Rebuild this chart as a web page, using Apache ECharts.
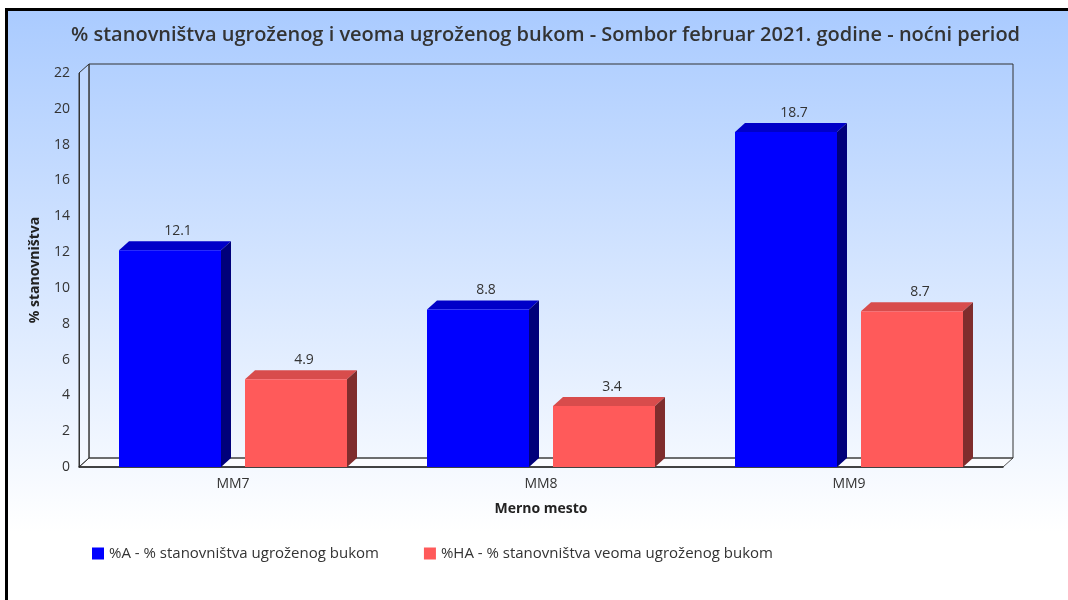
<!DOCTYPE html>
<html>
<head>
<meta charset="utf-8">
<script src="https://cdn.jsdelivr.net/npm/echarts@6/dist/echarts.min.js"></script>
<style>
  html, body { margin: 0; padding: 0; background: #fff; }
  .frame {
    position: absolute; left: 5px; top: 8px; width: 1100px; height: 620px;
    border-left: 3px solid #000; border-top: 3px solid #000;
    background: linear-gradient(to bottom, #aacbff 0%, #ffffff 84%, #ffffff 100%);
  }
  #chart { position: absolute; left: 0; top: 0; width: 1068px; height: 600px; }
</style>
</head>
<body>
<div class="frame"></div>
<div id="chart"></div>
<script>
const categories = ['MM7', 'MM8', 'MM9']
const seriesA = [12.1, 8.8, 18.7]
const seriesHA = [4.9, 3.4, 8.7]
const nameA = '%A - % stanovništva ugroženog bukom'
const nameHA = '%HA - % stanovništva veoma ugroženog bukom'

// grid + 3d depth
const GL = 79, GT = 73, GW = 924, GH = 394
const DX = 10, DY = 9
const BAR_W = 102, BAR_GAP = 24
const FONT = '"Open Sans", "Noto Sans", sans-serif'

const chart = echarts.init(document.getElementById('chart'))

const make3d = (offset, topColor, sideColor) => (params, api) => {
  const top = api.coord([api.value(0), api.value(1)])
  const base = api.coord([api.value(0), 0])
  const x0 = top[0] + offset - BAR_W / 2
  const x1 = x0 + BAR_W
  return {
    type: 'group',
    children: [{
      type: 'polygon',
      shape: { points: [[x0, top[1]], [x0 + DX, top[1] - DY], [x1 + DX, top[1] - DY], [x1, top[1]]] },
      style: { fill: topColor }
    }, {
      type: 'polygon',
      shape: { points: [[x1, top[1]], [x1 + DX, top[1] - DY], [x1 + DX, base[1] - DY], [x1, base[1]]] },
      style: { fill: sideColor }
    }]
  }
}

const half = (BAR_W + BAR_GAP) / 2
const bottom = GT + GH
const valueLabel = { show: true, position: 'top', distance: 12, offset: [8, 0], fontFamily: FONT, fontSize: 14, color: '#333' }

const options = {
  animation: false,
  title: {
    text: '% stanovništva ugroženog i veoma ugroženog bukom - Sombor februar 2021. godine - noćni period',
    left: 66,
    top: 20,
    textStyle: { fontFamily: FONT, fontSize: 20, fontWeight: 600, color: '#333' }
  },
  legend: {
    data: [nameA, nameHA],
    left: 87,
    top: 541,
    itemWidth: 12,
    itemHeight: 12,
    itemGap: 45,
    icon: 'rect',
    textStyle: { fontFamily: FONT, fontSize: 15, color: '#333' }
  },
  grid: { left: GL, top: GT, width: GW, height: GH },
  graphic: [{
    type: 'polygon',
    z: -1,
    shape: { points: [[GL, bottom], [GL + DX, bottom - DY], [GL + GW + DX, bottom - DY], [GL + GW, bottom]] },
    style: { fill: '#fbfcff', stroke: '#555', lineWidth: 1 }
  }, {
    type: 'rect',
    z: -1,
    shape: { x: GL + DX, y: GT - DY, width: GW, height: GH },
    style: { fill: 'none', stroke: '#333', lineWidth: 1 }
  }, {
    type: 'polygon',
    z: -1,
    shape: { points: [[GL, GT], [GL + DX, GT - DY], [GL + DX, bottom - DY], [GL, bottom]] },
    style: { fill: 'rgba(255,255,255,0.15)', stroke: '#333', lineWidth: 1 }
  }],
  xAxis: {
    type: 'category',
    data: categories,
    name: 'Merno mesto',
    nameLocation: 'middle',
    nameGap: 35,
    nameTextStyle: { fontFamily: FONT, fontSize: 14, fontWeight: 'bold', color: '#222' },
    axisLine: { lineStyle: { color: '#222', width: 1.5 } },
    axisTick: { show: false },
    axisLabel: { fontFamily: FONT, fontSize: 14, color: '#333', margin: 10 }
  },
  yAxis: {
    type: 'value',
    min: 0,
    max: 22,
    interval: 2,
    name: '% stanovništva',
    nameLocation: 'middle',
    nameGap: 37,
    nameTextStyle: { fontFamily: FONT, fontSize: 14, fontWeight: 'bold', color: '#222' },
    axisLine: { show: true, lineStyle: { color: '#333' } },
    axisTick: { show: false },
    splitLine: { show: false },
    axisLabel: { fontFamily: FONT, fontSize: 14, color: '#333', margin: 9 }
  },
  series: [{
    name: nameA,
    type: 'bar',
    barWidth: BAR_W,
    barGap: (BAR_GAP / BAR_W * 100) + '%',
    itemStyle: { color: '#0000ff' },
    label: valueLabel,
    data: seriesA
  }, {
    name: nameHA,
    type: 'bar',
    barWidth: BAR_W,
    itemStyle: { color: '#ff5a5a' },
    label: valueLabel,
    data: seriesHA
  }, {
    name: 'A3d',
    type: 'custom',
    renderItem: make3d(-half, '#0000c8', '#00007a'),
    encode: { x: 0, y: 1 },
    data: seriesA.map((v, i) => [i, v])
  }, {
    name: 'HA3d',
    type: 'custom',
    renderItem: make3d(half, '#d84c4c', '#7f2d2d'),
    encode: { x: 0, y: 1 },
    data: seriesHA.map((v, i) => [i, v])
  }]
}
chart.setOption(options)
</script>
</body>
</html>
